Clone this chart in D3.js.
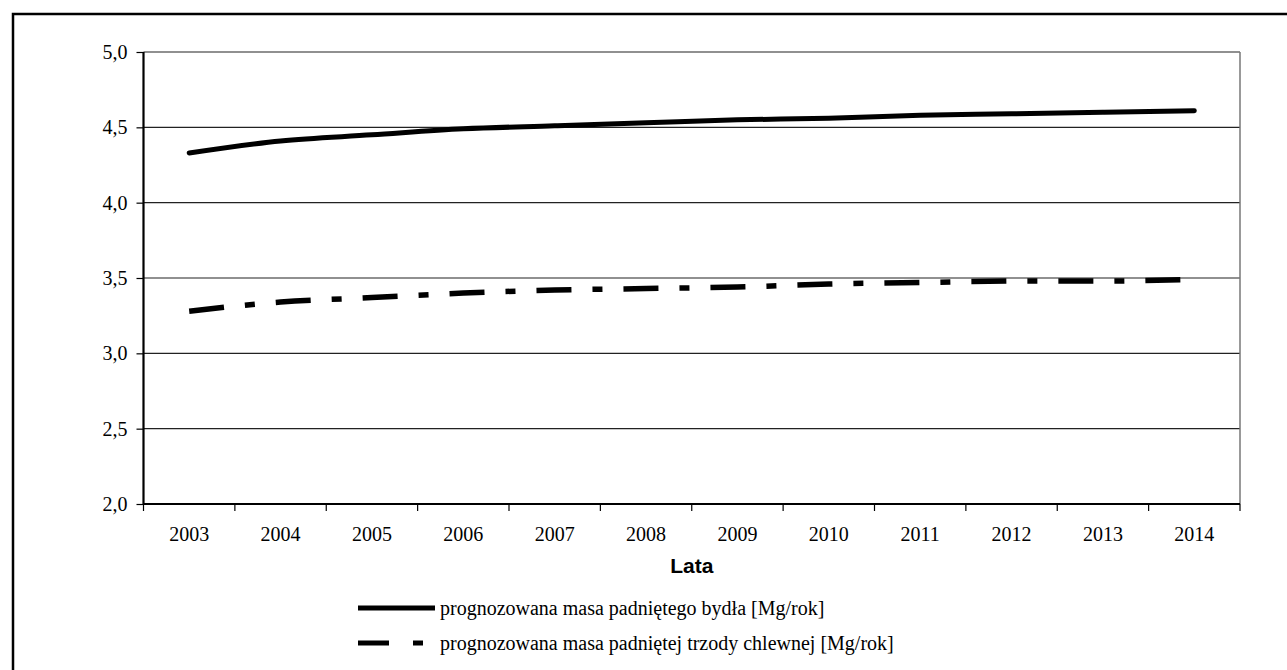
<!DOCTYPE html>
<html>
<head>
<meta charset="utf-8">
<script src="https://cdn.jsdelivr.net/npm/d3@7"></script>
<style>
  body { margin: 0; background: #fff; }
  .tick text { font-family: "Liberation Serif", "Times New Roman", serif; font-size: 20px; fill: #000; }
  .legend-text { font-family: "Liberation Serif", "Times New Roman", serif; font-size: 20px; }
</style>
</head>
<body>
<svg id="chart" width="1287" height="670"></svg>
<script>
// data
const years = ['2003','2004','2005','2006','2007','2008','2009','2010','2011','2012','2013','2014'];
const bydlo = [4.33, 4.41, 4.45, 4.49, 4.51, 4.53, 4.55, 4.56, 4.58, 4.59, 4.60, 4.61];
const trzoda = [3.28, 3.34, 3.37, 3.40, 3.42, 3.43, 3.44, 3.46, 3.47, 3.48, 3.48, 3.49];
const yTicks = [2.0, 2.5, 3.0, 3.5, 4.0, 4.5, 5.0];
const seriesNames = [
  'prognozowana masa padniętego bydła [Mg/rok]',
  'prognozowana masa padniętej trzody chlewnej [Mg/rok]'
];
const xTitle = 'Lata';

const svg = d3.select('#chart');

// outer frame (right and bottom edges fall outside the picture)
svg.append('rect')
  .attr('x', 13).attr('y', 14)
  .attr('width', 1300).attr('height', 700)
  .attr('fill', 'none')
  .attr('stroke', '#000')
  .attr('stroke-width', 2.5);

const plot = { left: 143.5, right: 1240, top: 52, bottom: 504 };

const x = d3.scaleBand().domain(years).range([plot.left, plot.right]).padding(0);
const y = d3.scaleLinear().domain([2, 5]).range([plot.bottom, plot.top]);
const cx = d => x(d) + x.bandwidth() / 2;

// gridlines
svg.append('g')
  .selectAll('line')
  .data(yTicks.slice(1))
  .join('line')
    .attr('x1', plot.left).attr('x2', plot.right)
    .attr('y1', d => y(d)).attr('y2', d => y(d))
    .attr('stroke', '#222')
    .attr('stroke-width', 1.2);

// right border of the plot area
svg.append('line')
  .attr('x1', plot.right).attr('x2', plot.right)
  .attr('y1', plot.top).attr('y2', plot.bottom)
  .attr('stroke', '#777')
  .attr('stroke-width', 1.5);

// y axis
const yAxis = svg.append('g')
  .attr('transform', `translate(${plot.left},0)`)
  .call(d3.axisLeft(y)
    .tickValues(yTicks)
    .tickSize(7)
    .tickPadding(9)
    .tickFormat(d => d.toFixed(1).replace('.', ',')));
yAxis.select('.domain').attr('stroke-width', 2.2).attr('d', `M0,${plot.top}V${plot.bottom}`);
yAxis.selectAll('.tick line').attr('stroke-width', 1.2);

// x axis: labels centred in categories, ticks between them
const xAxis = svg.append('g')
  .attr('transform', `translate(0,${plot.bottom})`)
  .call(d3.axisBottom(x).tickSize(0).tickPadding(23));
xAxis.select('.domain').attr('stroke-width', 2).attr('d', `M${plot.left},0H${plot.right}`);

const edges = years.map(d => x(d)).concat([x(years[years.length - 1]) + x.bandwidth()]);
xAxis.selectAll('.edge')
  .data(edges)
  .join('line')
    .attr('class', 'edge')
    .attr('x1', d => d).attr('x2', d => d)
    .attr('y1', 0).attr('y2', 7)
    .attr('stroke', '#000')
    .attr('stroke-width', 1.2);

// axis title
svg.append('text')
  .attr('x', (plot.left + plot.right) / 2)
  .attr('y', 573)
  .attr('text-anchor', 'middle')
  .attr('font-family', 'Liberation Sans, Arial, sans-serif')
  .attr('font-weight', 'bold')
  .attr('font-size', 21)
  .text(xTitle);

// lines
const line = d3.line()
  .x((d, i) => cx(years[i]))
  .y(d => y(d))
  .curve(d3.curveMonotoneX);

const dashPattern = '35 21 10 21';

svg.append('path')
  .datum(bydlo)
  .attr('d', line)
  .attr('fill', 'none')
  .attr('stroke', '#000')
  .attr('stroke-width', 5)
  .attr('stroke-linecap', 'round');

svg.append('path')
  .datum(trzoda)
  .attr('d', line)
  .attr('fill', 'none')
  .attr('stroke', '#000')
  .attr('stroke-width', 5.5)
  .attr('stroke-dasharray', dashPattern);

// legend
const legend = svg.append('g');
const legendRows = [
  { name: seriesNames[0], dash: null, y: 608 },
  { name: seriesNames[1], dash: '31 24 10 100', y: 643 }
];
legendRows.forEach(r => {
  legend.append('line')
    .attr('x1', 358).attr('x2', 435)
    .attr('y1', r.y).attr('y2', r.y)
    .attr('stroke', '#000')
    .attr('stroke-width', 5)
    .attr('stroke-dasharray', r.dash);
  legend.append('text')
    .attr('class', 'legend-text')
    .attr('x', 440)
    .attr('y', r.y + 7)
    .text(r.name);
});
</script>
</body>
</html>
